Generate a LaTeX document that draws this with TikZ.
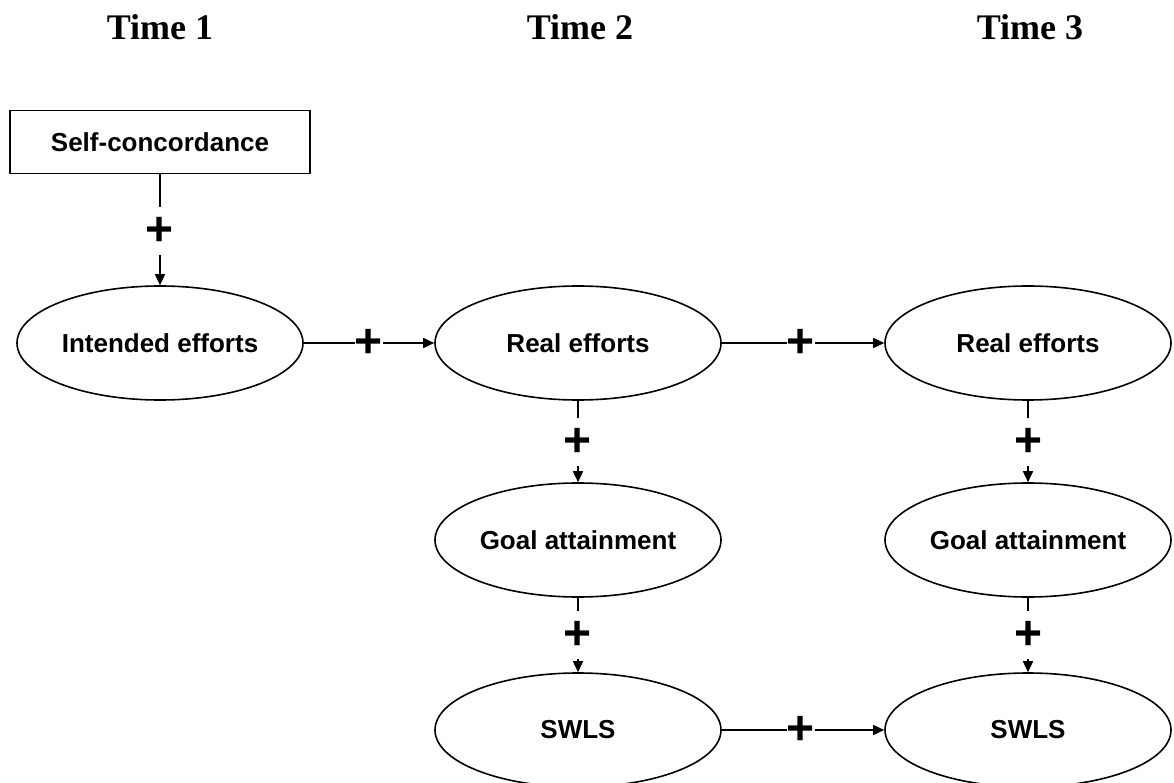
\documentclass[tikz,border=0pt]{standalone}
\usepackage{fontspec}
\setmainfont{Liberation Serif}
\newfontfamily\arialf{Liberation Sans}
\usetikzlibrary{shapes.geometric,arrows.meta}
\tikzset{
  timelbl/.style={font=\fontsize{36}{38}\selectfont\bfseries},
  latent/.style={draw, line width=1.6pt, ellipse, minimum width=286pt, minimum height=114pt, inner sep=0pt,
    font=\arialf\fontsize{26}{28}\selectfont\bfseries},
  obsbox/.style={draw, line width=1.6pt, rectangle, minimum width=300pt, minimum height=63pt, inner sep=0pt,
    font=\arialf\fontsize{26}{28}\selectfont\bfseries},
  plussign/.style={inner sep=0pt, minimum width=28pt, minimum height=48pt,
    font=\arialf\fontsize{48}{48}\selectfont\bfseries},
  conn/.style={line width=1.6pt},
  arr/.style={line width=1.6pt, -{Triangle[length=11pt,width=10pt]}}
}
\begin{document}
\begin{tikzpicture}[x=1pt,y=-1pt]
\useasboundingbox (0,0) rectangle (1174,783);
\clip (0,0) rectangle (1174,783);
\node[timelbl] (t1) at (160,27) {Time 1};
\node[timelbl] (t2) at (580,27) {Time 2};
\node[timelbl] (t3) at (1030,27) {Time 3};

\node[obsbox] (sc) at (160,142) {Self-concordance};
\node[latent] (ie) at (160,343) {Intended efforts};
\node[latent] (re2) at (578,343) {Real efforts};
\node[latent] (re3) at (1028,343) {Real efforts};
\node[latent] (ga2) at (578,540) {Goal attainment};
\node[latent] (ga3) at (1028,540) {Goal attainment};
\node[latent] (sw2) at (578,730) {SWLS};
\node[latent] (sw3) at (1028,730) {SWLS};

% plus signs
\node[plussign] (p1) at (160,231) {+};
\node[plussign] (p2) at (369,343) {+};
\node[plussign] (p3) at (801,343) {+};
\node[plussign] (p4) at (578,442) {+};
\node[plussign] (p5) at (1028,442) {+};
\node[plussign] (p6) at (578,635) {+};
\node[plussign] (p7) at (1028,635) {+};
\node[plussign] (p8) at (801,730) {+};

\draw[conn] (sc) -- (p1); \draw[arr] (p1) -- (ie);
\draw[conn] (ie) -- (p2); \draw[arr] (p2) -- (re2);
\draw[conn] (re2) -- (p3); \draw[arr] (p3) -- (re3);
\draw[conn] (re2) -- (p4); \draw[arr] (p4) -- (ga2);
\draw[conn] (re3) -- (p5); \draw[arr] (p5) -- (ga3);
\draw[conn] (ga2) -- (p6); \draw[arr] (p6) -- (sw2);
\draw[conn] (ga3) -- (p7); \draw[arr] (p7) -- (sw3);
\draw[conn] (sw2) -- (p8); \draw[arr] (p8) -- (sw3);
\end{tikzpicture}
\end{document}
